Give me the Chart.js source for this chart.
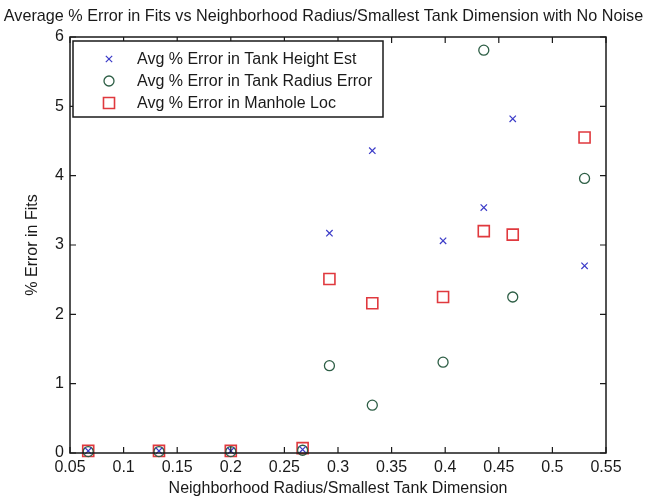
<!DOCTYPE html>
<html>
<head>
<meta charset="utf-8">
<script src="https://cdn.jsdelivr.net/npm/chart.js@4"></script>
<style>
  html, body { margin: 0; padding: 0; background: #fff; }
  #wrap { width: 647px; height: 498px; }
</style>
</head>
<body>
<div id="wrap"><canvas id="canvas"></canvas></div>
<script>
// values
const radiusRatio = [0.067, 0.133, 0.2, 0.267, 0.292, 0.332, 0.398, 0.436, 0.463, 0.53];
const heightErr = [0.03, 0.03, 0.03, 0.05, 3.17, 4.36, 3.06, 3.54, 4.82, 2.70];
const radiusErr = [0.02, 0.02, 0.02, 0.04, 1.26, 0.69, 1.31, 5.81, 2.25, 3.96];
const manholeErr = [0.03, 0.03, 0.03, 0.07, 2.51, 2.16, 2.25, 3.20, 3.15, 4.55];
const seriesLabels = ['Avg % Error in Tank Height Est', 'Avg % Error in Tank Radius Error', 'Avg % Error in Manhole Loc'];

const FONT = "'Liberation Sans', Arial, sans-serif";
const ink = '#1a1a1a';

const toPoints = (ys) => radiusRatio.map((x, i) => ({x: x, y: ys[i]}));

// draws one marker like chart.js does for points
function drawMarker(c, style, r, x, y) {
    c.beginPath();
    if (style === 'crossRot') {
        const s = Math.SQRT1_2 * r;
        c.moveTo(x - s, y - s); c.lineTo(x + s, y + s);
        c.moveTo(x - s, y + s); c.lineTo(x + s, y - s);
    } else if (style === 'circle') {
        c.arc(x, y, r, 0, Math.PI * 2);
    } else {
        const s = Math.SQRT1_2 * r;
        c.rect(x - s, y - s, 2 * s, 2 * s);
    }
    c.stroke();
}

// matlab style box, inward ticks and legend inside the axes
const axesBox = {
    id: 'axesBox',
    afterDraw(chart) {
        const c = chart.ctx;
        const a = chart.chartArea;
        const xs = chart.scales.x, ys = chart.scales.y;
        c.save();
        c.strokeStyle = ink;
        c.lineWidth = 1.5;
        c.strokeRect(a.left, a.top, a.right - a.left, a.bottom - a.top);
        c.lineWidth = 1.2;
        c.beginPath();
        xs.ticks.forEach(t => {
            const px = xs.getPixelForValue(t.value);
            c.moveTo(px, a.bottom); c.lineTo(px, a.bottom - 6);
            c.moveTo(px, a.top); c.lineTo(px, a.top + 6);
        });
        ys.ticks.forEach(t => {
            const py = ys.getPixelForValue(t.value);
            c.moveTo(a.left, py); c.lineTo(a.left + 6, py);
            c.moveTo(a.right, py); c.lineTo(a.right - 6, py);
        });
        c.stroke();

        // legend
        const lx = a.left + 3, ly = a.top + 4, lw = 310, lh = 76;
        c.fillStyle = '#fff';
        c.fillRect(lx, ly, lw, lh);
        c.lineWidth = 1.5;
        c.strokeRect(lx, ly, lw, lh);
        c.font = '16px ' + FONT;
        c.textBaseline = 'middle';
        chart.data.datasets.forEach((ds, i) => {
            const rowY = ly + 18 + i * 22;
            c.strokeStyle = ds.borderColor;
            c.lineWidth = ds.borderWidth;
            drawMarker(c, ds.pointStyle, ds.pointRadius, lx + 36, rowY);
            c.fillStyle = ink;
            c.fillText(ds.label, lx + 64, rowY + 1);
        });
        c.restore();
    }
};

new Chart(document.getElementById('canvas'), {
    type: 'scatter',
    data: {
        datasets: [
            {label: seriesLabels[0], data: toPoints(heightErr), pointStyle: 'crossRot', pointRadius: 4.5,
             borderColor: '#3b3bc8', backgroundColor: 'transparent', borderWidth: 1.2, clip: false},
            {label: seriesLabels[1], data: toPoints(radiusErr), pointStyle: 'circle', pointRadius: 5,
             borderColor: '#2d5e45', backgroundColor: 'transparent', borderWidth: 1.3, clip: false},
            {label: seriesLabels[2], data: toPoints(manholeErr), pointStyle: 'rect', pointRadius: 7.8,
             borderColor: '#e0393e', backgroundColor: 'transparent', borderWidth: 1.6, clip: false}
        ]
    },
    options: {
        responsive: true,
        maintainAspectRatio: false,
        animation: false,
        layout: {padding: 0},
        plugins: {
            legend: {display: false},
            tooltip: {enabled: false},
            title: {
                display: true,
                text: 'Average % Error in Fits vs Neighborhood Radius/Smallest Tank Dimension with No Noise',
                color: ink,
                font: {family: FONT, size: 16.2, weight: 'normal'},
                padding: {top: 6.5, bottom: 11.06}
            }
        },
        scales: {
            x: {
                type: 'linear',
                min: 0.05, max: 0.55,
                afterFit(scale) { scale.height = 45; },
                grid: {display: false, drawTicks: false},
                border: {display: false},
                ticks: {
                    stepSize: 0.05,
                    padding: 5,
                    color: ink,
                    font: {family: FONT, size: 16},
                    maxRotation: 0,
                    autoSkip: false,
                    callback: (v) => String(Number(v.toFixed(2)))
                },
                title: {
                    display: true,
                    text: 'Neighborhood Radius/Smallest Tank Dimension',
                    color: ink,
                    font: {family: FONT, size: 16},
                    padding: {top: 0, bottom: 0}
                }
            },
            y: {
                min: 0, max: 6,
                afterFit(scale) { scale.width = 70; },
                grid: {display: false, drawTicks: false},
                border: {display: false},
                ticks: {
                    stepSize: 1,
                    padding: 6,
                    color: ink,
                    font: {family: FONT, size: 16}
                },
                title: {
                    display: true,
                    text: '% Error in Fits',
                    color: ink,
                    font: {family: FONT, size: 16},
                    padding: {top: 23, bottom: 0}
                }
            },
            // empty right axis, only keeps the right margin
            yRight: {
                position: 'right',
                min: 0, max: 6,
                afterFit(scale) { scale.width = 41; },
                grid: {display: false, drawTicks: false},
                border: {display: false},
                ticks: {display: false}
            }
        }
    },
    plugins: [axesBox]
});
</script>
</body>
</html>
